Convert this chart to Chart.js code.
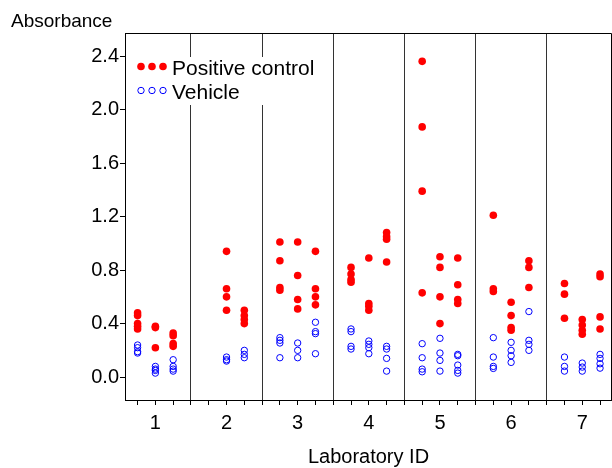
<!DOCTYPE html>
<html>
<head>
<meta charset="utf-8">
<script src="https://cdn.jsdelivr.net/npm/chart.js@4/dist/chart.umd.min.js"></script>
<style>
	html, body { margin: 0; padding: 0; background: #fff; }
	#chart { display: block; }
</style>
</head>
<body>
<canvas id="chart" width="612" height="468"></canvas>
<script>
// Laboratories and the three replicate columns inside each one
var labs = [1, 2, 3, 4, 5, 6, 7];
var colOffsets = [-0.25, 0, 0.25];
var yTicks = [0.0, 0.4, 0.8, 1.2, 1.6, 2.0, 2.4];

// Positive control absorbance, per lab: [col a, col b, col c]
var posLab1 = [[0.48, 0.46, 0.40, 0.38, 0.36], [0.38, 0.37, 0.22], [0.33, 0.31, 0.25, 0.23]];
var posLab2 = [[], [0.94, 0.66, 0.60, 0.50], [0.50, 0.46, 0.43, 0.40]];
var posLab3 = [[1.01, 0.87, 0.67, 0.65], [1.01, 0.76, 0.58, 0.51], [0.94, 0.66, 0.60, 0.54]];
var posLab4 = [[0.82, 0.77, 0.73, 0.71], [0.89, 0.55, 0.53, 0.50], [1.08, 1.05, 1.03, 0.86]];
var posLab5 = [[2.36, 1.87, 1.39, 0.63], [0.90, 0.82, 0.60, 0.40], [0.89, 0.69, 0.58, 0.55]];
var posLab6 = [[1.21, 0.66, 0.64], [0.56, 0.46, 0.37, 0.35], [0.87, 0.82, 0.67]];
var posLab7 = [[0.70, 0.62, 0.44], [0.43, 0.39, 0.35, 0.32], [0.77, 0.75, 0.45, 0.36]];

// Vehicle absorbance, per lab: [col a, col b, col c]
var vehLab1 = [[0.24, 0.22, 0.19, 0.18], [0.08, 0.06, 0.05, 0.03], [0.13, 0.08, 0.06, 0.045]];
var vehLab2 = [[], [0.15, 0.13, 0.12], [0.20, 0.17, 0.145]];
var vehLab3 = [[0.295, 0.275, 0.255, 0.145], [0.255, 0.20, 0.145], [0.41, 0.34, 0.325, 0.175]];
var vehLab4 = [[0.36, 0.34, 0.23, 0.21], [0.27, 0.245, 0.22, 0.175], [0.23, 0.21, 0.14, 0.045]];
var vehLab5 = [[0.25, 0.145, 0.06, 0.04], [0.29, 0.18, 0.125, 0.045], [0.17, 0.16, 0.09, 0.05, 0.03]];
var vehLab6 = [[0.295, 0.15, 0.08, 0.065], [0.26, 0.20, 0.16, 0.11], [0.49, 0.275, 0.245, 0.20]];
var vehLab7 = [[0.15, 0.08, 0.045], [0.105, 0.075, 0.045], [0.17, 0.14, 0.10, 0.067]];

var positive = [posLab1, posLab2, posLab3, posLab4, posLab5, posLab6, posLab7];
var vehicle = [vehLab1, vehLab2, vehLab3, vehLab4, vehLab5, vehLab6, vehLab7];

var FONT = "'Liberation Sans', Arial, sans-serif";

function $each(arr, fn) {
	for (var i = 0; i < arr.length; i++) { fn(i, arr[i]); }
}

// Turn lab/column arrays into {x, y} points on the numeric x axis
function toPoints(perLab) {
	var pts = [];
	$each(perLab, function (labIdx, cols) {
		$each(cols, function (colIdx, vals) {
			$each(vals, function (k, v) {
				pts.push({ x: labs[labIdx] + colOffsets[colIdx], y: v });
			});
		});
	});
	return pts;
}

// Ticks on x: dividers between labs, the three columns of each lab
var xTickVals = [];
$each(labs, function (i, lab) {
	if (i > 0) { xTickVals.push(lab - 0.5); }
	$each(colOffsets, function (j, off) { xTickVals.push(lab + off); });
});

// Top/right frame, the hand-made legend and the y title
var framePlugin = {
	id: 'frame',
	afterDatasetsDraw: function (chart) {
		var ctx = chart.ctx, a = chart.chartArea;
		ctx.save();
		ctx.strokeStyle = '#000';
		ctx.lineWidth = 1;
		ctx.beginPath();
		ctx.moveTo(a.left, a.top + 0.5);
		ctx.lineTo(a.right - 0.5, a.top + 0.5);
		ctx.lineTo(a.right - 0.5, a.bottom);
		ctx.stroke();

		// Legend box (white, it hides the dividers behind it)
		ctx.fillStyle = '#fff';
		ctx.fillRect(130, 57, 186, 48);
		var dotsX = [141, 152, 163];
		ctx.fillStyle = '#ff0000';
		$each(dotsX, function (i, x) {
			ctx.beginPath(); ctx.arc(x, 66.5, 3.8, 0, Math.PI * 2); ctx.fill();
		});
		ctx.strokeStyle = '#0000ff';
		$each(dotsX, function (i, x) {
			ctx.beginPath(); ctx.arc(x, 90.5, 3.2, 0, Math.PI * 2); ctx.stroke();
		});
		ctx.fillStyle = '#000';
		ctx.font = '21px ' + FONT;
		ctx.textBaseline = 'alphabetic';
		ctx.textAlign = 'left';
		ctx.fillText('Positive control', 172, 75);
		ctx.fillText('Vehicle', 172, 99);

		// y axis title, sits above the axis
		ctx.font = '19px ' + FONT;
		ctx.fillText('Absorbance', 11, 27);
		ctx.restore();
	}
};

var chart = new Chart(document.getElementById('chart'), {
	type: 'scatter',
	data: {
		datasets: [
			{
				label: 'Positive control',
				data: toPoints(positive),
				pointStyle: 'circle',
				pointRadius: 3.8,
				pointBorderWidth: 0,
				backgroundColor: '#ff0000',
				borderColor: '#ff0000'
			},
			{
				label: 'Vehicle',
				data: toPoints(vehicle),
				pointStyle: 'circle',
				pointRadius: 3.2,
				pointBorderWidth: 1,
				backgroundColor: 'rgba(0,0,0,0)',
				borderColor: '#0000ff'
			}
		]
	},
	options: {
		responsive: false,
		animation: false,
		layout: { autoPadding: false, padding: { top: 33, right: 0, left: 0, bottom: 0 } },
		plugins: {
			legend: { display: false },
			tooltip: { enabled: false }
		},
		scales: {
			x: {
				type: 'linear',
				min: 0.573,
				max: 7.418,
				afterBuildTicks: function (scale) {
					scale.ticks = xTickVals.map(function (v) { return { value: v }; });
				},
				afterFit: function (scale) {
					scale.height = 68;
					scale.paddingLeft = 0;
					scale.paddingRight = 0;
				},
				ticks: {
					autoSkip: false,
					maxRotation: 0,
					padding: 6,
					color: '#000',
					font: { family: FONT, size: 20 },
					callback: function (value) {
						return Number.isInteger(value) ? String(value) : '';
					}
				},
				grid: {
					drawOnChartArea: true,
					tickLength: 5,
					tickColor: '#000',
					color: function (c) {
						return (c.tick && Math.abs(c.tick.value % 1 - 0.5) < 1e-6) ? '#333' : 'rgba(0,0,0,0)';
					}
				},
				border: { display: true, color: '#000', width: 1 },
				title: {
					display: true,
					text: 'Laboratory ID',
					color: '#000',
					font: { family: FONT, size: 20, lineHeight: 1 },
					padding: { top: 0, bottom: 1 }
				}
			},
			y: {
				min: -0.171,
				max: 2.572,
				afterBuildTicks: function (scale) {
					scale.ticks = yTicks.map(function (v) { return { value: v }; });
				},
				afterFit: function (scale) {
					scale.width = 125;
					scale.paddingTop = 0;
					scale.paddingBottom = 0;
				},
				ticks: {
					padding: 1,
					color: '#000',
					font: { family: FONT, size: 20 },
					callback: function (value) { return Number(value).toFixed(1); }
				},
				grid: {
					drawOnChartArea: false,
					tickLength: 5,
					tickColor: '#000'
				},
				border: { display: true, color: '#000', width: 1 }
			}
		}
	},
	plugins: [framePlugin]
});
</script>
</body>
</html>
